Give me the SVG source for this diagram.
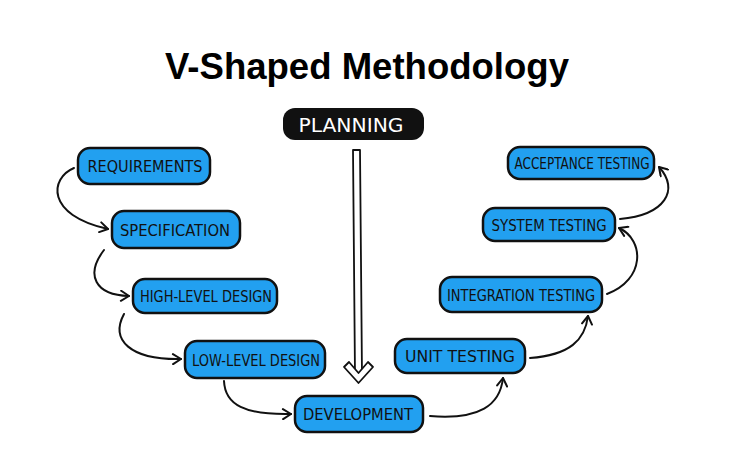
<svg xmlns="http://www.w3.org/2000/svg" width="740" height="464" viewBox="0 0 740 464">
<defs>
<style>
.box{fill:#22a0f0;stroke:#111;stroke-width:2.5}
.lbl{font-family:"DejaVu Sans Condensed","DejaVu Sans",sans-serif;font-size:16px;fill:#111;text-anchor:middle;dominant-baseline:central}
.con{fill:none;stroke:#111;stroke-width:2;stroke-linecap:round}
</style>
<marker id="ah" viewBox="0 0 12 12" refX="10" refY="6" markerWidth="12" markerHeight="12" markerUnits="userSpaceOnUse" orient="auto">
<path d="M2,1 L10,6 L2,11" fill="none" stroke="#111" stroke-width="2" stroke-linecap="round" stroke-linejoin="round"/>
</marker>
</defs>
<rect width="740" height="464" fill="#fff"/>
<text x="367" y="79" font-family="Liberation Sans, Arial, sans-serif" font-weight="bold" font-size="36" text-anchor="middle" fill="#000" textLength="404" lengthAdjust="spacingAndGlyphs">V-Shaped Methodology</text>

<g id="planning">
<rect x="283" y="108" width="141" height="32" rx="12" fill="#111"/>
<text x="351" y="125" class="lbl" style="fill:#fff;font-size:20px" textLength="105" lengthAdjust="spacingAndGlyphs">PLANNING</text>
</g>
<g id="requirements">
<rect class="box" x="78" y="148" width="132" height="36" rx="12"/>
<text x="145" y="166" class="lbl" textLength="115" lengthAdjust="spacingAndGlyphs">REQUIREMENTS</text>
</g>
<g id="specification">
<rect class="box" x="112" y="211" width="128" height="37" rx="12"/>
<text x="175" y="230" class="lbl" textLength="110" lengthAdjust="spacingAndGlyphs">SPECIFICATION</text>
</g>
<g id="high-level-design">
<rect class="box" x="133" y="279" width="144" height="34" rx="12"/>
<text x="206" y="296" class="lbl" textLength="132" lengthAdjust="spacingAndGlyphs">HIGH-LEVEL DESIGN</text>
</g>
<g id="low-level-design">
<rect class="box" x="185" y="341" width="140" height="37" rx="12"/>
<text x="256" y="360" class="lbl" textLength="128" lengthAdjust="spacingAndGlyphs">LOW-LEVEL DESIGN</text>
</g>
<g id="development">
<rect class="box" x="295" y="396" width="128" height="36" rx="12"/>
<text x="358" y="414" class="lbl" textLength="110" lengthAdjust="spacingAndGlyphs">DEVELOPMENT</text>
</g>
<g id="unit-testing">
<rect class="box" x="395" y="339" width="130" height="34" rx="12"/>
<text x="460" y="356" class="lbl" textLength="110" lengthAdjust="spacingAndGlyphs">UNIT TESTING</text>
</g>
<g id="integration-testing">
<rect class="box" x="440" y="277" width="162" height="35" rx="12"/>
<text x="521" y="295" class="lbl" textLength="148" lengthAdjust="spacingAndGlyphs">INTEGRATION TESTING</text>
</g>
<g id="system-testing">
<rect class="box" x="483" y="208" width="132" height="33" rx="12"/>
<text x="549" y="225" class="lbl" textLength="115" lengthAdjust="spacingAndGlyphs">SYSTEM TESTING</text>
</g>
<g id="acceptance-testing">
<rect class="box" x="508" y="147" width="146" height="32" rx="12"/>
<text x="582" y="163" class="lbl" textLength="135" lengthAdjust="spacingAndGlyphs">ACCEPTANCE TESTING</text>
</g>

<g id="connectors">
<path class="con" d="M74,168 C50,178 45,215 108,229" marker-end="url(#ah)"/>
<path class="con" d="M104,250 C85,275 95,295 129,296" marker-end="url(#ah)"/>
<path class="con" d="M124,314 C110,340 130,360 181,359" marker-end="url(#ah)"/>
<path class="con" d="M224,381 C225,405 245,415 291,414" marker-end="url(#ah)"/>
<path class="con" d="M430,416 C480,420 500,405 503,378" marker-end="url(#ah)"/>
<path class="con" d="M530,358 C570,355 585,340 588,316" marker-end="url(#ah)"/>
<path class="con" d="M607,294 C645,280 645,240 619,228" marker-end="url(#ah)"/>
<path class="con" d="M620,219 C665,215 680,190 659,167" marker-end="url(#ah)"/>
<g id="planning-arrow" fill="none" stroke="#111" stroke-width="1.8" stroke-linejoin="round">
<path d="M353,150 L360,150 L362,375 L355,375 Z" fill="#fff"/>
<path d="M344,367 L349,362 L358.5,373 L368,362 L373,367 L358.5,383 Z" fill="#fff"/>
</g>
</g>
</svg>
